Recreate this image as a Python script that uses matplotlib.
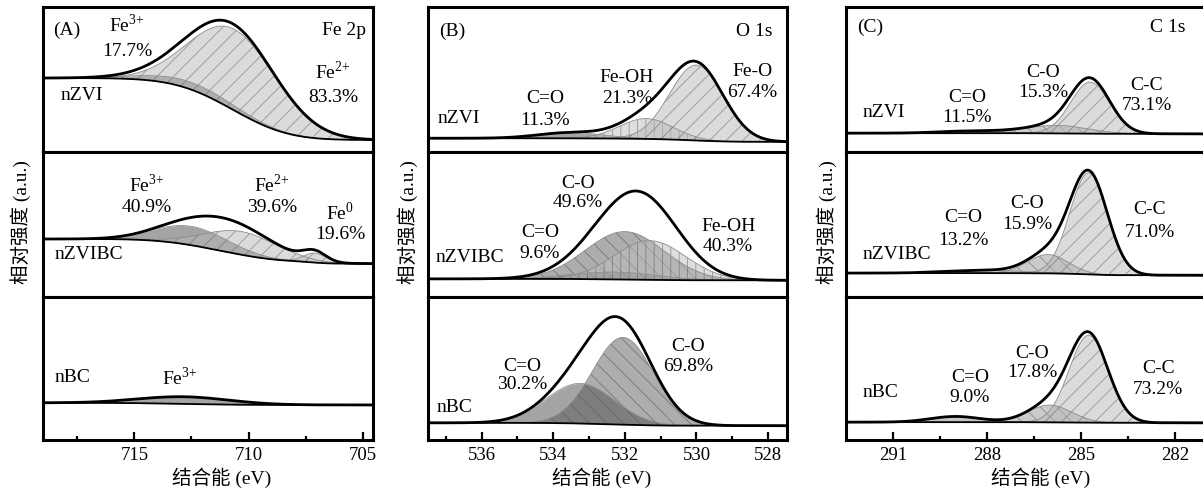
import numpy as np
import matplotlib
matplotlib.use("Agg")
import matplotlib.pyplot as plt

plt.rcParams['font.family'] = ['Liberation Serif', 'Noto Sans CJK SC']
plt.rcParams['mathtext.fontset'] = 'custom'
plt.rcParams['mathtext.rm'] = 'Liberation Serif'
plt.rcParams['hatch.linewidth'] = 0.6

samples = ["nZVI", "nZVIBC", "nBC"]

# Fe 2p: component centre (eV), height, sigma (eV); background (high BE end, low BE end)
fe_names = [["Fe3+", "Fe2+"], ["Fe3+", "Fe2+", "Fe0"], ["Fe3+"]]
fe_center = [[712.5, 710.6], [712.5, 710.3, 707.1], [712.8]]
fe_height = [[0.05, 0.56], [0.13, 0.16, 0.065], [0.05]]
fe_sigma = [[2.0, 1.9], [1.6, 1.6, 0.5], [2.0]]
fe_bg = [(0.51, 0.083), (0.40, 0.23), (0.26, 0.245)]
fe_pct = [["17.7%", "83.3%"], ["40.9%", "39.6%", "19.6%"], [""]]

# O 1s
o_names = [["C=O", "Fe-OH", "Fe-O"], ["C=O", "C-O", "Fe-OH"], ["C-O", "C=O"]]
o_center = [[533.5, 531.4, 530.0], [532.3, 532.0, 531.3], [532.05, 533.25]]
o_height = [[0.04, 0.14, 0.52], [0.05, 0.33, 0.27], [0.61, 0.28]]
o_sigma = [[0.9, 0.75, 0.75], [1.2, 1.1, 1.0], [0.85, 0.95]]
o_bg = [(0.095, 0.07), (0.125, 0.115), (0.12, 0.10)]
o_pct = [["11.3%", "21.3%", "67.4%"], ["9.6%", "49.6%", "40.3%"], ["69.8%", "30.2%"]]

# C 1s
c_names = [["C=O", "C-O", "C-C"], ["C=O", "C-O", "C-C"], ["C=O", "C-O", "C-C"]]
c_center = [[288.5, 285.8, 284.7], [288.0, 286.05, 284.75], [289.0, 286.0, 284.75]]
c_height = [[0.015, 0.055, 0.355], [0.02, 0.13, 0.70], [0.04, 0.12, 0.61]]
c_sigma = [[1.0, 1.0, 0.62], [1.2, 0.65, 0.6], [0.8, 0.7, 0.62]]
c_bg = [(0.13, 0.125), (0.165, 0.15), (0.125, 0.12)]
c_pct = [["11.5%", "15.3%", "73.1%"], ["13.2%", "15.9%", "71.0%"], ["9.0%", "17.8%", "73.2%"]]

titles = ["(A)", "(B)", "(C)"]
cores = ["Fe 2p", "O 1s", "C 1s"]
xlims = [(719.0, 704.55), (537.5, 527.47), (292.5, 281.0)]
major = [[715, 710, 705], [536, 534, 532, 530, 528], [291, 288, 285, 282]]
minor = [[717.5, 712.5, 707.5], [537, 535, 533, 531, 529], [289.5, 286.5, 283.5]]

tex = {"Fe3+": r"$\mathrm{Fe}^{3{+}}$", "Fe2+": r"$\mathrm{Fe}^{2{+}}$", "Fe0": r"$\mathrm{Fe}^{0}$"}

# fill colour, alpha, hatch
dark = ("0.35", 0.55, None)
light = ("0.72", 0.5, "//")
styles = [
    {"Fe3+": dark, "Fe2+": light, "Fe0": light},
    {"C=O": dark, "C-O": ("0.45", 0.58, "\\\\"), "Fe-OH": ("0.75", 0.5, "||"), "Fe-O": light},
    {"C=O": ("0.55", 0.5, None), "C-O": ("0.6", 0.5, "\\\\"), "C-C": light},
]

# label positions (axes fraction)
name_pos = [
    [[(0.255, 0.876), (0.879, 0.552)], [(0.315, 0.772), (0.694, 0.772), (0.90, 0.579)], [(0.415, 0.434)]],
    [[(0.326, 0.372), (0.554, 0.517), (0.903, 0.552)], [(0.312, 0.448), (0.418, 0.786), (0.836, 0.483)],
     [(0.724, 0.657), (0.262, 0.517)]],
    [[(0.336, 0.379), (0.547, 0.545), (0.836, 0.462)], [(0.325, 0.545), (0.503, 0.648), (0.844, 0.60)],
     [(0.344, 0.44), (0.517, 0.608), (0.867, 0.503)]],
]
pct_dy = [[[0.186, 0.173], [0.158, 0.158, 0.151], [0]],
          [[0.152, 0.145, 0.145], [0.145, 0.131, 0.138], [0.14, 0.132]],
          [[0.138, 0.138, 0.138], [0.152, 0.145, 0.152], [0.146, 0.139, 0.153]]]
sample_pos = [[(0.052, 0.393), (0.036, 0.29), (0.036, 0.434)],
              [(0.028, 0.234), (0.02, 0.269), (0.025, 0.224)],
              [(0.047, 0.269), (0.047, 0.29), (0.047, 0.329)]]
corner_y = [0.84, 0.83, 0.86]
core_x = [0.98, 0.961, 0.942]

col_left = [43, 428, 846]
col_width = [330, 359, 360]
row_top = [7, 152, 297]
row_bot = [152, 297, 440]
W, H = 1203, 492


def draw_panel(ax, x, names, centers, heights, sigmas, bg_ends, style):
    peaks = [h * np.exp(-(x - c) ** 2 / (2 * s ** 2)) for c, h, s in zip(centers, heights, sigmas)]
    total = np.sum(peaks, axis=0)
    # Shirley-type background from the summed components
    cum = np.concatenate([[0], np.cumsum((total[1:] + total[:-1]) / 2 * np.diff(x))])
    bg = bg_ends[1] + (bg_ends[0] - bg_ends[1]) * cum / cum[-1]
    for name, p in zip(names, peaks):
        color, alpha, hatch = style[name]
        ax.fill_between(x, bg, bg + p, facecolor=color, alpha=alpha, hatch=hatch,
                        edgecolor="0.3", linewidth=0)
        ax.plot(x, bg + p, color="0.55", lw=0.6)
    ax.plot(x, bg, color="k", lw=1.3)
    ax.plot(x, bg + total, color="k", lw=2.0)


fig = plt.figure(figsize=(W / 100, H / 100), dpi=100)

all_names = [fe_names, o_names, c_names]
all_center = [fe_center, o_center, c_center]
all_height = [fe_height, o_height, c_height]
all_sigma = [fe_sigma, o_sigma, c_sigma]
all_bg = [fe_bg, o_bg, c_bg]
all_pct = [fe_pct, o_pct, c_pct]

for col in range(3):
    lo, hi = min(xlims[col]), max(xlims[col])
    x = np.linspace(lo, hi, 800)
    for row in range(3):
        ax = fig.add_axes([col_left[col] / W, (H - row_bot[row]) / H,
                           col_width[col] / W, (row_bot[row] - row_top[row]) / H])
        draw_panel(ax, x, all_names[col][row], all_center[col][row], all_height[col][row],
                   all_sigma[col][row], all_bg[col][row], styles[col])
        ax.set_xlim(*xlims[col])
        ax.set_ylim(0, 1)
        ax.set_yticks([])
        for sp in ax.spines.values():
            sp.set_linewidth(2.2)
        if row == 2:
            ax.set_xticks(major[col])
            ax.set_xticks(minor[col], minor=True)
            ax.tick_params(axis="x", which="major", direction="in", length=6, width=1.6,
                           labelsize=13.5, pad=5)
            ax.tick_params(axis="x", which="minor", direction="in", length=3, width=1.6)
        else:
            ax.set_xticks([])

        for k, name in enumerate(all_names[col][row]):
            px, py = name_pos[col][row][k]
            ax.text(px, py, tex.get(name, name), transform=ax.transAxes, ha="center",
                    va="center", fontsize=14)
            pct = all_pct[col][row][k]
            if pct:
                ax.text(px, py - pct_dy[col][row][k], pct, transform=ax.transAxes,
                        ha="center", va="center", fontsize=14)
        sx, sy = sample_pos[col][row]
        ax.text(sx, sy, samples[row], transform=ax.transAxes, ha="left", va="center", fontsize=14)
        if row == 0:
            ax.text(0.03, corner_y[col], titles[col], transform=ax.transAxes, ha="left",
                    va="center", fontsize=14)
            ax.text(core_x[col], corner_y[col], cores[col], transform=ax.transAxes,
                    ha="right", va="center", fontsize=14)

    fig.text([21, 408, 827][col] / W, (H - 222) / H, "相对强度 (a.u.)", rotation=90,
             ha="center", va="center", fontsize=14)
    fig.text([222, 602, 1041][col] / W, (H - 478) / H, "结合能 (eV)",
             ha="center", va="center", fontsize=14)

fig.savefig("out.png", dpi=100)
